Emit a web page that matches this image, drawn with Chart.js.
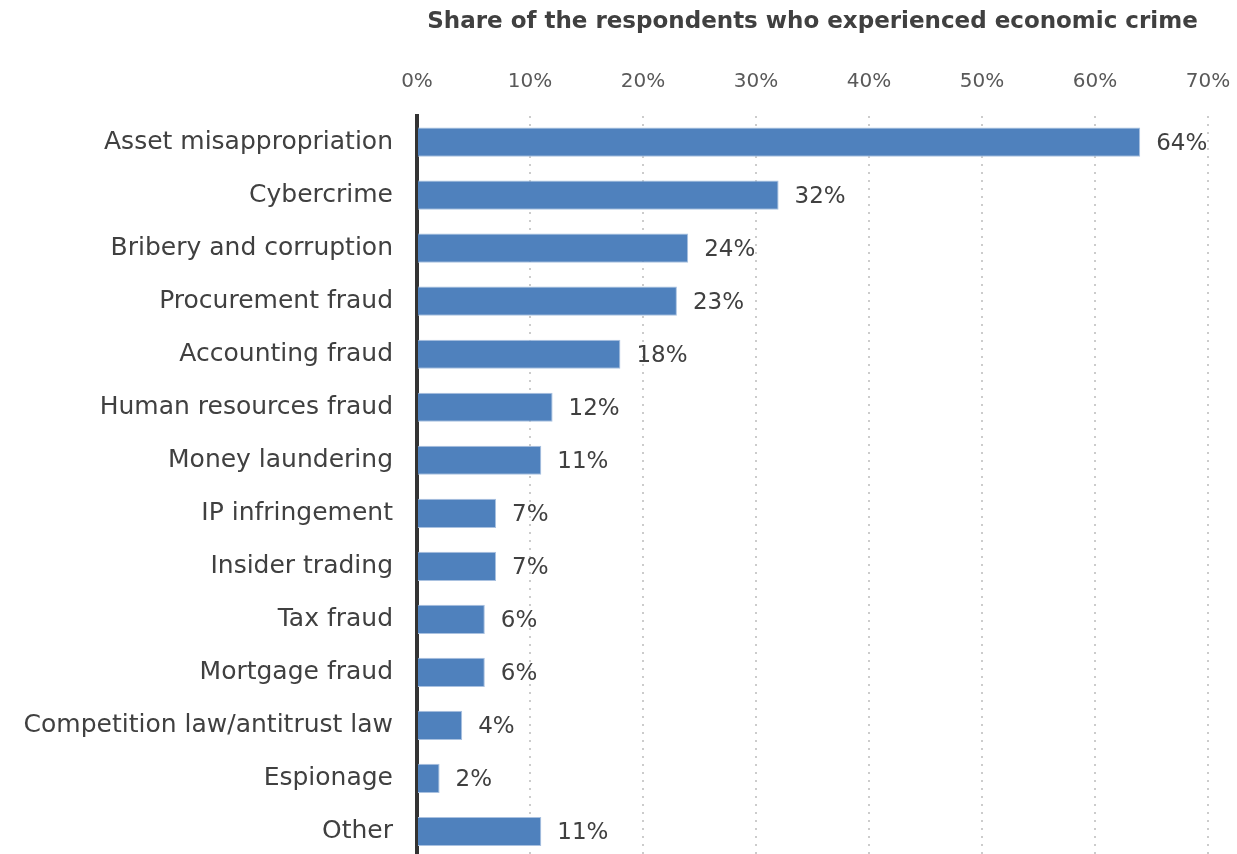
<!DOCTYPE html>
<html>
<head>
<meta charset="utf-8">
<script src="https://cdn.jsdelivr.net/npm/chart.js@4/dist/chart.umd.min.js"></script>
<style>
  html, body { margin: 0; padding: 0; background: #fff; overflow: hidden; }
  #grafica { display: block; }
</style>
</head>
<body>
<canvas id="grafica" width="1237" height="858"></canvas>
<script>
// categorias y valores
const categorias = [
  "Asset misappropriation",
  "Cybercrime",
  "Bribery and corruption",
  "Procurement fraud",
  "Accounting fraud",
  "Human resources fraud",
  "Money laundering",
  "IP infringement",
  "Insider trading",
  "Tax fraud",
  "Mortgage fraud",
  "Competition law/antitrust law",
  "Espionage",
  "Other"
];
const valores = [64, 32, 24, 23, 18, 12, 11, 7, 7, 6, 6, 4, 2, 11];
const ticksX = [0, 10, 20, 30, 40, 50, 60, 70];
const titulo = "Share of the respondents who experienced economic crime";

const fuente = "'DejaVu Sans', sans-serif";

// plugin que escribe el porcentaje al final de cada barra
const etiquetasBarras = {
  id: "etiquetasBarras",
  afterDatasetsDraw(chart) {
    const ctx = chart.ctx;
    const meta = chart.getDatasetMeta(0);
    ctx.save();
    ctx.font = "23px " + fuente;
    ctx.fillStyle = "#404040";
    ctx.textAlign = "left";
    ctx.textBaseline = "middle";
    meta.data.forEach((barra, i) => {
      ctx.fillText(valores[i] + "%", barra.x + 16, barra.y + 2);
    });
    ctx.restore();
  }
};

const config = {
  type: "bar",
  data: {
    labels: categorias,
    datasets: [{
      data: valores,
      backgroundColor: "#4f81bd",
      borderColor: "#a9c1e0",
      borderWidth: { top: 1, bottom: 1, right: 1, left: 0 },
      borderSkipped: "left",
      barPercentage: 0.55,
      categoryPercentage: 1
    }]
  },
  options: {
    indexAxis: "y",
    responsive: false,
    animation: false,
    layout: { padding: { top: 8, right: 29, bottom: 0, left: 0 } },
    plugins: {
      legend: { display: false },
      tooltip: { enabled: false },
      title: {
        display: true,
        text: titulo,
        fullSize: false,
        color: "#404040",
        font: { family: fuente, size: 23, weight: "bold", lineHeight: 1.2 },
        padding: { top: 0, bottom: 12 }
      }
    },
    scales: {
      x: {
        position: "top",
        min: 0,
        max: 70,
        afterBuildTicks: (scale) => { scale.ticks = ticksX.map(v => ({ value: v })); },
        afterFit: (scale) => { scale.paddingLeft = 0; scale.paddingRight = 0; },
        ticks: {
          callback: (v) => v + "%",
          color: "#595959",
          padding: 22,
          font: { family: fuente, size: 20 }
        },
        grid: {
          drawTicks: false,
          color: "#cccccc",
          lineWidth: 2
        },
        border: { display: false, dash: [2, 6] }
      },
      y: {
        afterFit: (scale) => {
          scale.width = 417;
          scale.paddingTop = 0;
          scale.paddingBottom = 0;
        },
        ticks: {
          color: "#404040",
          padding: 24,
          font: { family: fuente, size: 25 }
        },
        grid: { display: false, drawTicks: false },
        border: { display: true, color: "#333333", width: 4 }
      }
    }
  },
  plugins: [etiquetasBarras]
};

new Chart(document.getElementById("grafica"), config);
</script>
</body>
</html>
